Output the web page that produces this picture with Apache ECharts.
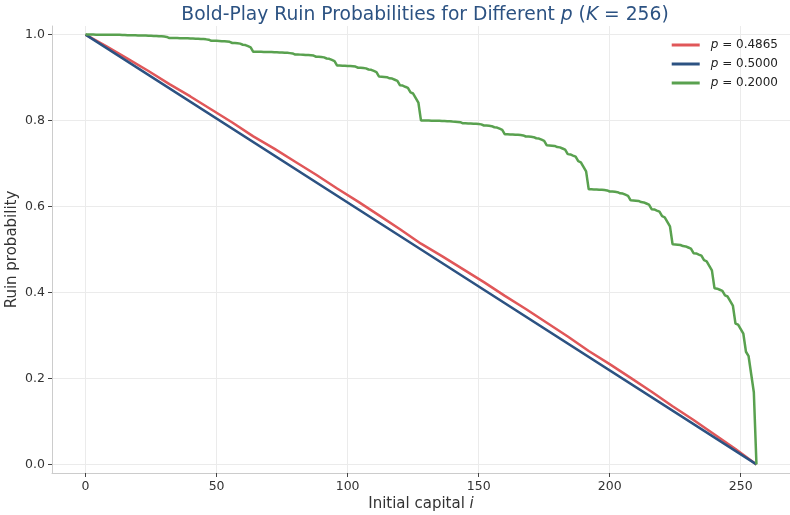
<!DOCTYPE html>
<html>
<head>
<meta charset="utf-8">
<script src="https://cdn.jsdelivr.net/npm/echarts@6/dist/echarts.min.js"></script>
<style>
  html, body { margin: 0; padding: 0; background: #fff; }
  #chart { width: 790px; height: 515px; }
</style>
</head>
<body>
<div id="chart"></div>
<script>
// Bold-play ruin probabilities, target capital K = 256.

// p = 0.2000: ruin probability for every starting capital i = 0..256
const ruinP2000 = [
  1, 1, 1, 1, .9999, .9999, .9999, .9998, .9997, .9997, .9996, .9996, .9994, .9994, .9992, .9991,
  .9984, .9984, .9983, .9983, .9981, .9981, .9979, .9978, .9971, .9971, .9969, .9968, .9961, .9959, .9953, .9946,
  .992, .992, .9919, .9919, .9917, .9917, .9915, .9914, .9907, .9907, .9905, .9904, .9897, .9895, .9889, .9882,
  .9856, .9856, .9854, .9852, .9846, .9844, .9838, .9831, .9805, .9803, .9797, .979, .9764, .9757, .9731, .9705,
  .96, .96, .9599, .9599, .9597, .9597, .9595, .9594, .9587, .9587, .9585, .9584, .9577, .9575, .9569, .9562,
  .9536, .9536, .9534, .9532, .9526, .9524, .9518, .9511, .9485, .9483, .9477, .947, .9444, .9437, .9411, .9385,
  .928, .928, .9278, .9276, .927, .9268, .9262, .9255, .9229, .9227, .9221, .9214, .9188, .9181, .9155, .9129,
  .9024, .9022, .9016, .9009, .8983, .8976, .895, .8924, .8819, .8813, .8786, .876, .8655, .8629, .8524, .8419,
  .8, .8, .7999, .7999, .7997, .7997, .7995, .7994, .7987, .7987, .7985, .7984, .7977, .7975, .7969, .7962,
  .7936, .7936, .7934, .7932, .7926, .7924, .7918, .7911, .7885, .7883, .7877, .787, .7844, .7837, .7811, .7785,
  .768, .768, .7678, .7676, .767, .7668, .7662, .7655, .7629, .7627, .7621, .7614, .7588, .7581, .7555, .7529,
  .7424, .7422, .7416, .7409, .7383, .7376, .735, .7324, .7219, .7213, .7186, .716, .7055, .7029, .6924, .6819,
  .64, .64, .6398, .6396, .639, .6388, .6382, .6375, .6349, .6347, .6341, .6334, .6308, .6301, .6275, .6249,
  .6144, .6142, .6136, .6129, .6103, .6096, .607, .6044, .5939, .5933, .5906, .588, .5775, .5749, .5644, .5539,
  .512, .5118, .5112, .5105, .5079, .5072, .5046, .502, .4915, .4909, .4882, .4856, .4751, .4725, .462, .4515,
  .4096, .4089, .4063, .4037, .3932, .3906, .3801, .3696, .3277, .3251, .3146, .3041, .2621, .2517, .2097, .1678,
  0
];

// p = 0.4865: ruin probability at every 8th starting capital
const capitalP4865 = [0, 8, 16, 24, 32, 40, 48, 56, 64, 72, 80, 88, 96, 104, 112, 120, 128,
  136, 144, 152, 160, 168, 176, 184, 192, 200, 208, 216, 224, 232, 240, 248, 256];
const ruinP4865 = [1, .9727, .944, .9152, .8849, .8561, .8257, .7954, .7633, .7346, .7042, .6738,
  .6418, .6114, .5794, .5473, .5135, .4847, .4544, .424, .392, .3616, .3296, .2975, .2637,
  .2333, .2013, .1692, .1354, .1034, .0695, .0357, 0];

// p = 0.5000: fair game, ruin falls in a straight line
const capitalP5000 = [0, 128, 256];
const ruinP5000 = [1, 0.5, 0];

// axis ticks
const xTicks = [0, 50, 100, 150, 200, 250];
const yTicks = [0, 0.2, 0.4, 0.6, 0.8, 1.0];

const seriesNames = ['p = 0.4865', 'p = 0.5000', 'p = 0.2000'];
const seriesColors = ['#e05759', '#2c5282', '#59a14f'];

const pairs = (xs, ys) => xs.map((x, k) => [x, ys[k]]);
const dataP2000 = ruinP2000.map((v, i) => [i, v]);
const dataP4865 = pairs(capitalP4865, ruinP4865);
const dataP5000 = pairs(capitalP5000, ruinP5000);

const FONT = 'DejaVu Sans';
const chart = echarts.init(document.getElementById('chart'), null, { renderer: 'canvas' });

const lineSeries = (name, data, color) => ({
  name, type: 'line', data, showSymbol: false, symbol: 'none',
  lineStyle: { color, width: 2.5 }, itemStyle: { color },
  emphasis: { disabled: true }
});

chart.setOption({
  animation: false,
  backgroundColor: '#ffffff',
  title: {
    text: 'Bold-Play Ruin Probabilities for Different {i|p} ({i|K} = 256)',
    left: 420, textAlign: 'center', top: 1,
    textStyle: {
      fontFamily: FONT, fontSize: 18.7, fontWeight: 'normal', color: '#2c5282',
      rich: { i: { fontFamily: FONT, fontSize: 18.7, fontStyle: 'italic', color: '#2c5282' } }
    }
  },
  legend: {
    data: seriesNames, orient: 'vertical', right: 7, top: 34,
    icon: 'rect', itemWidth: 28, itemHeight: 3, itemGap: 7,
    formatter: n => n.replace('p', '{i|p}'),
    textStyle: {
      fontFamily: FONT, fontSize: 12, color: '#222', padding: [0, 0, 0, 6],
      rich: { i: { fontFamily: FONT, fontSize: 12, fontStyle: 'italic', color: '#222' } }
    }
  },
  grid: { left: 52, right: 0, top: 26, bottom: 42, outerBoundsMode: 'none', containLabel: false },
  xAxis: {
    type: 'value', min: -12.8, max: 268.8,
    name: 'Initial capital {i|i}', nameLocation: 'middle', nameGap: 24, nameMoveOverlap: false,
    nameTextStyle: {
      fontFamily: FONT, fontSize: 15, color: '#333',
      rich: { i: { fontFamily: FONT, fontSize: 15, fontStyle: 'italic', color: '#333' } }
    },
    axisLine: { show: true, onZero: false, lineStyle: { color: '#cccccc', width: 1 } },
    axisTick: { show: true, length: 4, customValues: xTicks, lineStyle: { color: '#444' } },
    axisLabel: { customValues: xTicks, fontFamily: FONT, fontSize: 12.5, color: '#333', margin: 7 },
    splitLine: { show: true, lineStyle: { color: '#ebebeb', width: 1 } }
  },
  yAxis: {
    type: 'value', min: -0.02, max: 1.02,
    name: 'Ruin probability', nameLocation: 'middle', nameGap: 32, nameMoveOverlap: false,
    nameTextStyle: { fontFamily: FONT, fontSize: 15, color: '#333' },
    axisLine: { show: true, onZero: false, lineStyle: { color: '#cccccc', width: 1 } },
    axisTick: { show: true, length: 4, customValues: yTicks, lineStyle: { color: '#444' } },
    axisLabel: {
      customValues: yTicks, fontFamily: FONT, fontSize: 12.5, color: '#333', margin: 7,
      formatter: v => v.toFixed(1)
    },
    splitLine: { show: true, lineStyle: { color: '#ebebeb', width: 1 } }
  },
  series: [
    lineSeries(seriesNames[0], dataP4865, seriesColors[0]),
    lineSeries(seriesNames[1], dataP5000, seriesColors[1]),
    lineSeries(seriesNames[2], dataP2000, seriesColors[2])
  ]
});
</script>
</body>
</html>
